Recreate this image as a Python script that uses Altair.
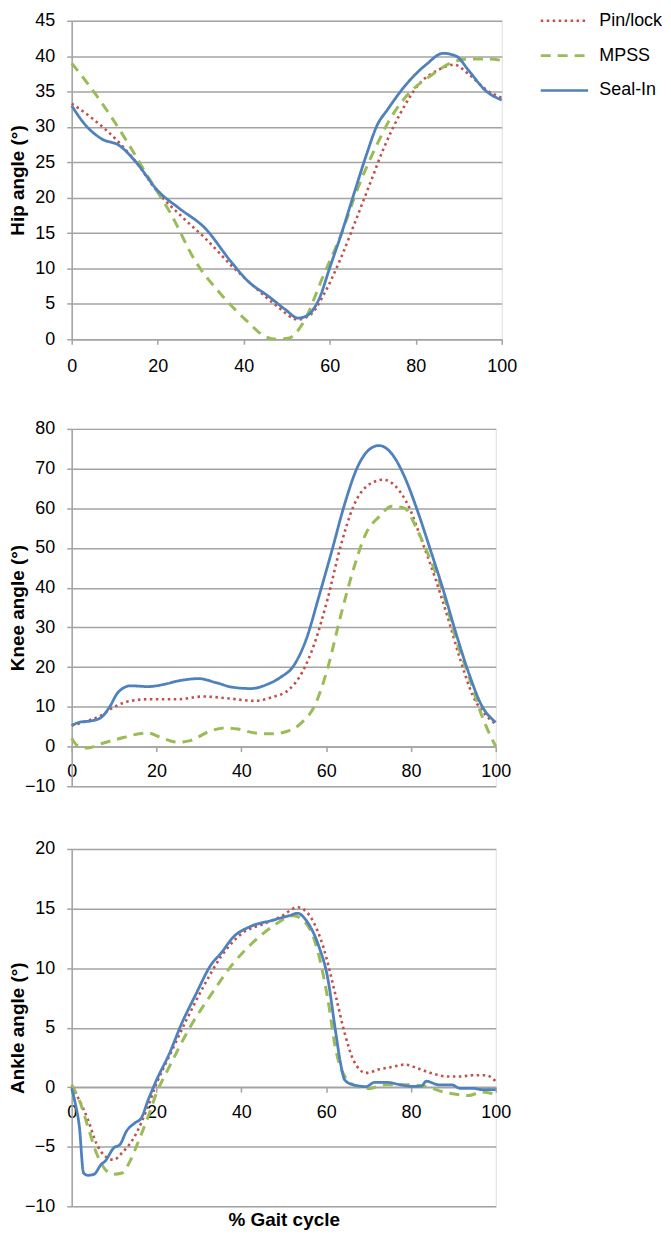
import altair as alt
import pandas as pd

SERIES = ["Pin/lock", "MPSS", "Seal-In"]
COLORS = ["#C0504D", "#9BBB59", "#4F81BD"]
DASHES = [[2.5, 3.5], [10, 7], [1, 0]]
WIDTHS = [2.6, 3.0, 2.8]

X_TICKS = [0, 20, 40, 60, 80, 100]

# ---------------- Hip ----------------
HIP_PIN_X = [0, 5, 11, 15, 20, 26, 31, 37, 42.7, 47.7, 52.6, 55.6, 58.6, 62.6, 66.5, 69.5, 72.5, 76.5, 80.4, 85.4, 88.9, 92.4, 96.3, 100]
HIP_PIN_Y = [33.3, 31.1, 27.8, 25.0, 20.8, 17.1, 14.3, 10.5, 7.3, 4.7, 2.8, 3.5, 6.3, 11.5, 17.5, 22.2, 26.9, 32.0, 35.8, 38.1, 38.8, 37.4, 35.3, 34.1]
HIP_MPSS_X = [0, 3, 8, 13, 18, 22.8, 28.8, 34.8, 40.7, 44.7, 47.7, 50.6, 53.6, 58.6, 62.6, 66.5, 70.5, 74.5, 78.5, 83.4, 88.4, 92.4, 96.3, 100]
HIP_MPSS_Y = [39.0, 36.7, 32.5, 27.8, 22.7, 18.0, 11.0, 6.3, 2.6, 0.5, 0.0, 0.2, 2.1, 9.1, 14.7, 21.3, 26.9, 31.6, 34.8, 37.2, 39.1, 39.6, 39.6, 39.4]
HIP_SEAL_X = [0, 3, 7, 11, 15, 20, 25, 31, 37, 41, 45.7, 49.7, 52.6, 54.6, 57.6, 60, 62.6, 65.5, 68.5, 71, 73.5, 77.5, 82.4, 86.4, 89.4, 92.4, 96.3, 100]
HIP_SEAL_Y = [33.0, 30.4, 28.3, 27.4, 25.0, 21.0, 18.5, 15.7, 11.0, 8.2, 6.1, 4.2, 3.0, 3.3, 5.8, 10.1, 14.7, 20.3, 26.0, 30.2, 32.5, 35.8, 38.8, 40.4, 40.0, 37.9, 35.1, 33.8]

# ---------------- Knee ----------------
KNEE_PIN_X = [0, 3.8, 6.9, 9.9, 13.9, 18, 25, 31, 37.1, 43.2, 47.2, 51.3, 54.3, 57.3, 60.3, 63.4, 66.4, 69.4, 73.5, 76.5, 79.5, 82.5, 85.6, 88.6, 91.6, 94.6, 97.7, 100]
KNEE_PIN_Y = [5.3, 6.5, 7.8, 9.9, 11.5, 11.9, 11.9, 12.6, 12.1, 11.5, 12.4, 14.4, 18.6, 26.1, 37.0, 50.4, 60.4, 65.4, 67.2, 65.4, 60.4, 52.0, 42.8, 32.8, 22.0, 12.8, 7.8, 5.7]
KNEE_MPSS_X = [0, 1.3, 3.8, 6.9, 10.9, 15.9, 18, 21, 25, 28, 32, 36.1, 39.2, 43.2, 47.2, 51.3, 54.3, 57.3, 60.3, 63.4, 66.4, 69.4, 72.5, 75.5, 78.5, 81.5, 84.6, 87.6, 90.6, 93.6, 96.7, 100]
KNEE_MPSS_Y = [2.1, 0.3, -0.4, 0.7, 1.9, 3.2, 3.4, 2.3, 1.1, 1.5, 3.6, 4.7, 4.4, 3.4, 3.2, 4.0, 6.1, 10.3, 19.5, 32.8, 44.5, 53.7, 57.9, 60.5, 60.0, 54.5, 47.0, 38.7, 27.0, 17.8, 7.8, 0.0]
KNEE_SEAL_X = [0, 1.8, 4.8, 6.9, 8.9, 10.9, 13.9, 18, 22, 25, 30, 34, 38.1, 42.2, 46.2, 49.2, 52.3, 55.3, 58.3, 61.4, 64.4, 67.4, 70.4, 72.5, 75.5, 78.5, 81.5, 84.6, 87.6, 90.6, 93.6, 96.7, 100]
KNEE_SEAL_Y = [5.3, 6.1, 6.5, 7.3, 9.9, 13.6, 15.3, 15.1, 15.7, 16.5, 17.1, 16.1, 14.9, 14.6, 15.7, 17.4, 20.3, 27.0, 37.8, 49.5, 61.2, 70.4, 75.0, 75.8, 73.7, 67.9, 59.5, 49.5, 39.5, 28.6, 18.6, 10.3, 6.1]

# ---------------- Ankle ----------------
ANK_PIN_X = [0, 1.8, 3.8, 5.8, 7.9, 9.9, 11.9, 14.9, 18, 20, 23, 27, 31, 35.1, 40.1, 45.2, 49.2, 53.3, 56.3, 59.3, 62.3, 64.4, 66.4, 69.4, 72.5, 75.5, 78.5, 81.5, 84.6, 88.6, 91.6, 94.6, 97.7, 100]
ANK_PIN_Y = [0.05, -1.1, -2.7, -4.7, -5.8, -6.1, -5.5, -4.1, -1.6, 0.3, 2.6, 5.6, 8.4, 10.9, 12.9, 13.7, 14.3, 15.1, 14.3, 11.8, 7.6, 4.5, 2.3, 1.2, 1.5, 1.7, 1.9, 1.6, 1.2, 0.9, 0.9, 1.0, 1.0, 0.5]
ANK_MPSS_X = [0, 1.8, 3.8, 5.8, 7.9, 9.9, 11.9, 13.9, 15.9, 18, 20, 23, 28, 33.1, 38.1, 43.2, 48.2, 52.3, 54.3, 57.3, 60.3, 62.3, 64.4, 67.4, 70.4, 73.5, 76.5, 79.5, 83.6, 87.6, 90.6, 93.6, 96.7, 100]
ANK_MPSS_Y = [0.2, -1.1, -3.3, -5.5, -6.9, -7.3, -7.2, -6.1, -4.4, -2.5, -0.5, 1.7, 5.1, 7.9, 10.4, 12.3, 13.7, 14.4, 14.1, 12.3, 7.6, 3.1, 0.9, 0.05, -0.1, 0.2, 0.2, 0.2, 0.05, -0.4, -0.6, -0.7, -0.4, -0.6]
ANK_SEAL_X = [0, 0.8, 1.8, 2.8, 3.8, 5.3, 6.9, 7.9, 9.9, 11.4, 12.9, 14.9, 16.4, 18, 20, 23, 26, 29, 33.1, 35.1, 38.1, 42.2, 47.2, 51.3, 53.3, 55.3, 58.3, 60.3, 62.3, 63.4, 64.4, 66.4, 69.4, 71.4, 74.5, 77.5, 80.5, 82.5, 83.6, 86.6, 89.6, 91.6, 94.6, 96.7, 100]
ANK_SEAL_Y = [-0.1, -1.3, -3.3, -7.2, -7.4, -7.3, -6.5, -6.2, -5.1, -4.8, -3.7, -3.0, -2.6, -1.1, 0.6, 2.8, 5.4, 7.6, 10.4, 11.2, 12.6, 13.5, 14.0, 14.4, 14.6, 14.0, 11.8, 9.3, 4.5, 2.0, 0.6, 0.2, 0.05, 0.4, 0.4, 0.2, 0.06, 0.1, 0.5, 0.2, 0.2, -0.1, -0.1, -0.2, -0.2]

FONT = "Liberation Sans"
GRID = "#a3a3a3"

LEGEND = alt.Legend(
    title=None, orient="none", legendX=485, legendY=-10, padding=0,
    symbolType="M-2.8,0H2.8", symbolSize=289, symbolStrokeWidth=2.6,
    labelFont=FONT, labelFontSize=18, labelColor="black",
    rowPadding=16, labelOffset=25,
)


def panel(series_xy, ymin, ymax, step, ytitle, width, height, xtitle=None, title_y=None, xpad=11):
    x_offset = -height * (0 - ymin) / (ymax - ymin)
    xaxis_kwargs = dict(
        values=X_TICKS, grid=False, labelFont=FONT, labelFontSize=18, labelColor="black",
        domainColor=GRID, domainWidth=1.5, tickColor=GRID, tickWidth=1.5, tickSize=5,
        labelPadding=xpad, offset=x_offset, labelFlush=False,
    )
    if xtitle:
        xaxis_kwargs.update(title=xtitle, titleFont=FONT, titleFontSize=19, titleFontWeight="bold",
                            titleColor="black", titleY=title_y, titleBaseline="middle")
    else:
        xaxis_kwargs.update(title=None)
    xaxis = alt.Axis(**xaxis_kwargs)
    yaxis = alt.Axis(
        values=list(range(ymin, ymax + 1, step)), grid=True, gridColor=GRID, gridWidth=1.5,
        labelFont=FONT, labelFontSize=18, labelColor="black",
        domainColor=GRID, domainWidth=1.5, tickColor=GRID, tickWidth=1.5, tickSize=5,
        labelPadding=12, title=ytitle, titleFont=FONT, titleFontSize=19, titleFontWeight="bold",
        titleColor="black", titleX=-54, titleBaseline="middle", labelFlush=False,
    )
    layers = []
    for i, (name, xs, ys) in enumerate(series_xy):
        df = pd.DataFrame({"x": xs, "y": ys, "series": name})
        layers.append(
            alt.Chart(df).mark_line(interpolate="monotone", strokeWidth=WIDTHS[i]).encode(
                x=alt.X("x:Q", scale=alt.Scale(domain=[0, 100], nice=False, zero=False), axis=xaxis),
                y=alt.Y("y:Q", scale=alt.Scale(domain=[ymin, ymax], nice=False, zero=False), axis=yaxis),
                color=alt.Color("series:N", scale=alt.Scale(domain=SERIES, range=COLORS), legend=LEGEND),
                strokeDash=alt.StrokeDash("series:N", scale=alt.Scale(domain=SERIES, range=DASHES), legend=LEGEND),
            )
        )
    return alt.layer(*layers).properties(width=width, height=height)


hip = panel([("Pin/lock", HIP_PIN_X, HIP_PIN_Y), ("MPSS", HIP_MPSS_X, HIP_MPSS_Y), ("Seal-In", HIP_SEAL_X, HIP_SEAL_Y)],
            0, 45, 5, "Hip angle (°)", 432, 320, xpad=13)
knee = panel([("Pin/lock", KNEE_PIN_X, KNEE_PIN_Y), ("MPSS", KNEE_MPSS_X, KNEE_MPSS_Y), ("Seal-In", KNEE_SEAL_X, KNEE_SEAL_Y)],
             -10, 80, 10, "Knee angle (°)", 426, 359)
ankle = panel([("Pin/lock", ANK_PIN_X, ANK_PIN_Y), ("MPSS", ANK_MPSS_X, ANK_MPSS_Y), ("Seal-In", ANK_SEAL_X, ANK_SEAL_Y)],
              -10, 20, 5, "Ankle angle (°)", 426, 359, xtitle="% Gait cycle", title_y=133)

chart = alt.vconcat(hip, knee, ankle, spacing=43).resolve_scale(
    color="shared", strokeDash="shared"
).properties(
    padding=0
).configure_view(stroke=None).configure(background="white")

chart.save("out.html", embed_options={"renderer": "svg", "actions": False})
